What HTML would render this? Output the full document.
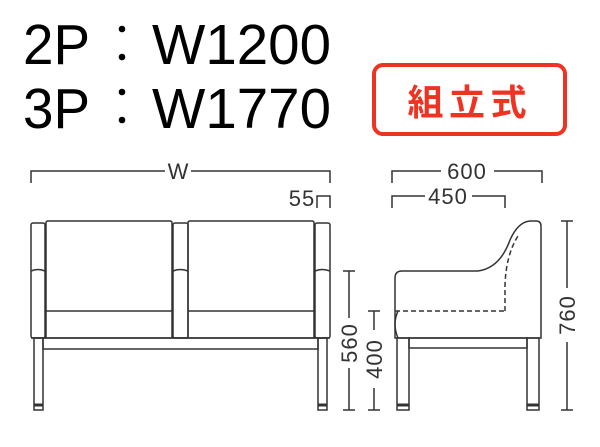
<!DOCTYPE html>
<html><head><meta charset="utf-8"><style>
html,body{margin:0;padding:0;background:#fff;}
svg{display:block;}
</style></head><body>
<svg width="600" height="447" viewBox="0 0 600 447" xmlns="http://www.w3.org/2000/svg">
<g font-family="Liberation Sans, sans-serif" fill="#000">
  <text x="23" y="64" font-size="57" textLength="67" lengthAdjust="spacingAndGlyphs">2P</text>
  <text x="152" y="64" font-size="57" textLength="179" lengthAdjust="spacingAndGlyphs">W1200</text>
  <text x="23" y="128" font-size="57" textLength="67" lengthAdjust="spacingAndGlyphs">3P</text>
  <text x="152" y="128" font-size="57" textLength="179" lengthAdjust="spacingAndGlyphs">W1770</text>
  <circle cx="122" cy="29" r="3.3"/><circle cx="122" cy="57" r="3.3"/>
  <circle cx="122" cy="92" r="3.3"/><circle cx="122" cy="120" r="3.3"/>
</g>
<rect x="374" y="65" width="191" height="69" rx="9" fill="none" stroke="#ee3322" stroke-width="4"/>
<text x="467" y="115" text-anchor="middle" font-family="Liberation Sans, Noto Sans CJK JP, sans-serif" font-weight="bold" font-size="36" fill="#ee3322" textLength="119" lengthAdjust="spacing">組立式</text>

<g stroke="#333" stroke-width="1.5" fill="none">
  <path d="M31 183V171H165M191 171H330V183"/>
  <path d="M317 208V196H330V208"/>
  <rect x="31" y="223" width="14" height="115" rx="2"/>
  <path d="M31 271Q38 268 45 271"/>
  <rect x="173" y="223" width="15" height="115" rx="2"/>
  <path d="M173 271Q180 268 188 271"/>
  <rect x="315" y="223" width="15" height="115" rx="2"/>
  <path d="M315 271Q322 268 330 271"/>
  <path d="M46 338V223Q46 221 48 221H170Q172 221 172 223V338"/>
  <path d="M46 311H172"/>
  <path d="M188 338V223Q188 221 190 221H312Q314 221 314 223V338"/>
  <path d="M188 311H314"/>
  <path d="M31 338H330"/>
  <rect x="43" y="338" width="275" height="11"/>
  <rect x="34" y="338" width="9" height="72"/>
  <rect x="318" y="338" width="9" height="72"/>
  <path d="M34 405H43M318 405H327" stroke-width="3"/>
  <path d="M343 271H355M349 271V318M349 368V410M343 410H355"/>
  <path d="M392 183V171H441M494 171H542V183"/>
  <path d="M392 208V196H425M472 196H505V208"/>
  <path d="M395 338V278Q395 271 402 271H478Q500 268 510 240Q518 222 530 221H536Q541 221 541 226V338Z"/>
  <path d="M395 311H505" stroke-dasharray="5,3"/>
  <path d="M505 311V285Q506 255 518 236" stroke-dasharray="5,3"/>
  <path d="M398 311Q392 324 398 338"/>
  <rect x="409" y="338" width="118" height="10"/>
  <rect x="397" y="338" width="12" height="72"/>
  <rect x="527" y="338" width="12" height="72"/>
  <path d="M397 405H409M527 405H539" stroke-width="3"/>
  <path d="M368 311H380M374 311V330M374 388V410M368 410H380"/>
  <path d="M561 221H573M567 221V288M567 342V410M561 410H573"/>
</g>
<g font-family="Liberation Sans, sans-serif" fill="#333" font-size="22">
  <text x="178" y="179" text-anchor="middle">W</text>
  <text x="302" y="206" text-anchor="middle" letter-spacing="1">55</text>
  <text x="467" y="179" text-anchor="middle" letter-spacing="1">600</text>
  <text x="448" y="204" text-anchor="middle" letter-spacing="1">450</text>
  <text transform="translate(357,343) rotate(-90)" text-anchor="middle" letter-spacing="1">560</text>
  <text transform="translate(382,359) rotate(-90)" text-anchor="middle" letter-spacing="1">400</text>
  <text transform="translate(575,315) rotate(-90)" text-anchor="middle" letter-spacing="1">760</text>
</g>
</svg>
</body></html>
